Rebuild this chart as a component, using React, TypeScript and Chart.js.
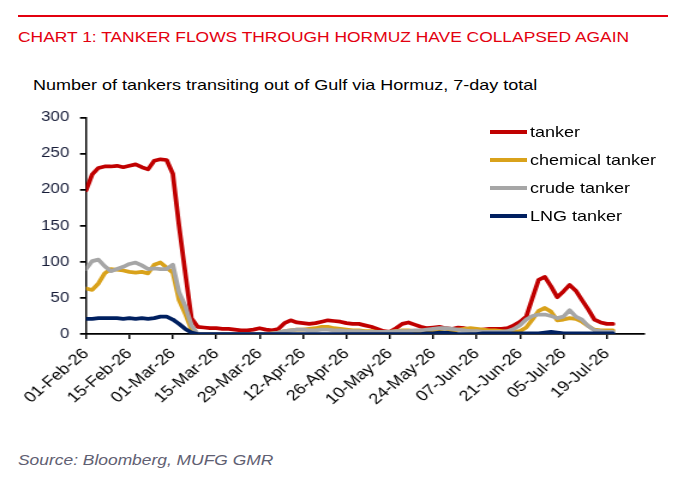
import React, { useEffect, useRef } from 'react';
import { Chart, registerables } from 'chart.js';

Chart.register(...registerables);

const FONT = "'Liberation Sans', Arial, sans-serif";

// Day offsets from 01-Feb-26 (every 2 days)
const days = [
  0, 2, 4, 6, 8, 10, 12, 14, 16, 18,
  20, 22, 24, 26, 28, 30, 32, 34, 36, 38,
  40, 42, 44, 46, 48, 50, 52, 54, 56, 58,
  60, 62, 64, 66, 68, 70, 72, 74, 76, 78,
  80, 82, 84, 86, 88, 90, 92, 94, 96, 98,
  100, 102, 104, 106, 108, 110, 112, 114, 116, 118,
  120, 122, 124, 126, 128, 130, 132, 134, 136, 138,
  140, 142, 144, 146, 148, 150, 152, 154, 156, 158,
  160, 162, 164, 166, 168, 170,
];

const tanker = [
  199, 221, 230, 232, 232, 233, 231, 233, 235, 231,
  228, 240, 242, 241, 222, 150, 85, 22, 10, 9,
  8, 8, 7, 7, 6, 5, 5, 6, 8, 6,
  5, 7, 15, 19, 16, 15, 14, 15, 17, 19,
  18, 17, 15, 14, 14, 12, 10, 7, 4, 3,
  8, 14, 16, 13, 10, 8, 9, 10, 8, 7,
  9, 8, 6, 5, 6, 7, 7, 7, 8, 12,
  17, 24, 50, 75, 79, 66, 51, 59, 68, 60,
  47, 34, 20, 16, 14, 14,
];

const chemicalTanker = [
  63, 61, 70, 84, 90, 89, 88, 86, 85, 86,
  84, 96, 99, 92, 85, 47, 28, 6, 0, 0,
  0, 0, 0, 0, 0, 0, 0, 0, 0, 0,
  1, 2, 4, 5, 6, 6, 7, 8, 10, 10,
  8, 7, 6, 5, 5, 4, 4, 3, 3, 3,
  4, 5, 5, 4, 4, 4, 3, 3, 2, 4,
  6, 7, 8, 7, 6, 5, 5, 4, 3, 3,
  4, 9, 20, 32, 36, 31, 19, 20, 22, 21,
  17, 11, 6, 5, 5, 5,
];

const crudeTanker = [
  90, 101, 103, 94, 87, 90, 93, 97, 99, 95,
  90, 91, 90, 90, 96, 58, 39, 12, 0, 0,
  0, 0, 0, 0, 0, 0, 0, 0, 0, 0,
  1, 2, 4, 5, 6, 6, 5, 5, 6, 6,
  5, 5, 4, 4, 4, 3, 3, 3, 3, 3,
  4, 4, 4, 5, 5, 6, 7, 8, 8, 7,
  6, 5, 4, 4, 3, 3, 3, 3, 4, 7,
  12, 20, 25, 27, 27, 25, 22, 24, 33, 24,
  20, 11, 5, 4, 3, 3,
];

const lngTanker = [
  21, 21, 22, 22, 22, 22, 21, 22, 21, 22,
  21, 22, 24, 24, 20, 14, 7, 2, 0, 0,
  0, 0, 0, 0, 0, 0, 0, 0, 0, 0,
  0, 0, 0, 0, 0, 0, 0, 0, 0, 0,
  0, 0, 0, 0, 0, 0, 0, 0, 0, 0,
  0, 0, 0, 0, 0, 1, 1, 2, 2, 1,
  0, 0, 0, 0, 1, 1, 1, 1, 1, 1,
  1, 1, 1, 1, 2, 3, 2, 1, 1, 1,
  1, 1, 1, 1, 1, 1,
];

const seriesNames = ['tanker', 'chemical tanker', 'crude tanker', 'LNG tanker'];
const seriesColors = ['#C00000', '#D9A21B', '#A6A6A6', '#002060'];
const seriesValues = [tanker, chemicalTanker, crudeTanker, lngTanker];

const tickDays = [0, 14, 28, 42, 56, 70, 84, 98, 112, 126, 140, 154, 168];
const tickLabels = [
  '01-Feb-26', '15-Feb-26', '01-Mar-26', '15-Mar-26', '29-Mar-26', '12-Apr-26',
  '26-Apr-26', '10-May-26', '24-May-26', '07-Jun-26', '21-Jun-26', '05-Jul-26', '19-Jul-26',
];

// The reference is horizontally stretched; emulate that.
const SX = 1.2;
const CANVAS_TOP = 100;
const CANVAS_W = 560;
const CANVAS_H = 320;
const PLOT_LEFT = 86 / SX;
const PLOT_RIGHT = 644 / SX;
const PLOT_BOTTOM = 334 - CANVAS_TOP;

const stretch = { transform: `scaleX(${SX})`, transformOrigin: '0 0' };

export default function App() {
  const ref = useRef<HTMLCanvasElement>(null);

  useEffect(() => {
    const datasets = seriesNames.map((name, si) => ({
      label: name,
      data: days.map((d, i) => ({ x: d, y: seriesValues[si][i] })),
      borderColor: seriesColors[si],
      backgroundColor: seriesColors[si],
      borderWidth: 3.75,
      pointRadius: 0,
      tension: 0,
      borderJoinStyle: 'round' as const,
      borderCapStyle: 'round' as const,
      order: seriesNames.length - 1 - si,
    }));

    const chart = new Chart(ref.current!, {
      type: 'line',
      data: { datasets },
      options: {
        animation: false,
        responsive: false,
        maintainAspectRatio: false,
        layout: { padding: { top: 15, right: CANVAS_W - PLOT_RIGHT, left: 0, bottom: 0 } },
        plugins: {
          legend: { display: false },
          tooltip: { enabled: false },
        },
        scales: {
          x: {
            type: 'linear',
            min: 0,
            max: 180,
            afterBuildTicks: (s: any) => {
              s.ticks = tickDays.map((v) => ({ value: v }));
            },
            afterFit: (s: any) => {
              s.height = CANVAS_H - PLOT_BOTTOM;
            },
            ticks: {
              autoSkip: false,
              maxRotation: 45,
              minRotation: 45,
              padding: 6,
              color: '#000',
              font: { family: FONT, size: 15 },
              callback: (v: any) => {
                const idx = tickDays.indexOf(Number(v));
                return idx >= 0 ? tickLabels[idx] : '';
              },
            },
            grid: {
              drawOnChartArea: false,
              drawTicks: true,
              tickLength: 5,
              color: '#000',
              lineWidth: 1.5,
            },
            border: { display: true, color: '#000', width: 1.75 },
          },
          y: {
            min: 0,
            max: 300,
            afterFit: (s: any) => {
              s.width = PLOT_LEFT;
            },
            ticks: {
              stepSize: 50,
              padding: 9,
              color: '#161c38',
              font: { family: FONT, size: 14 },
            },
            grid: {
              drawOnChartArea: false,
              drawTicks: true,
              tickLength: 5,
              color: '#000',
              lineWidth: 1.75,
            },
            border: { display: true, color: '#000', width: 1.5 },
          },
        },
      },
    });
    return () => chart.destroy();
  }, []);

  const legendRowY = [132, 160, 188, 216];

  return (
    <div
      style={{
        position: 'fixed',
        left: 0,
        top: 0,
        width: 693,
        height: 495,
        background: '#fff',
        overflow: 'hidden',
        fontFamily: FONT,
      }}
    >
      <div style={{ position: 'absolute', left: 18, top: 15, width: 650, height: 1.5, background: '#E3000F' }} />
      <div
        style={{
          position: 'absolute',
          left: 18,
          top: 28,
          lineHeight: '18px',
          fontSize: 14.5,
          color: '#E3000F',
          whiteSpace: 'nowrap',
          ...stretch,
        }}
      >
        CHART 1: TANKER FLOWS THROUGH HORMUZ HAVE COLLAPSED AGAIN
      </div>
      <div
        style={{
          position: 'absolute',
          left: 33,
          top: 76,
          lineHeight: '18px',
          fontSize: 15,
          color: '#000',
          whiteSpace: 'nowrap',
          ...stretch,
        }}
      >
        Number of tankers transiting out of Gulf via Hormuz, 7-day total
      </div>
      <div
        style={{
          position: 'absolute',
          left: 0,
          top: CANVAS_TOP,
          width: CANVAS_W,
          height: CANVAS_H,
          ...stretch,
        }}
      >
        <canvas ref={ref} width={CANVAS_W} height={CANVAS_H} style={{ width: CANVAS_W, height: CANVAS_H }} />
      </div>
      {seriesNames.map((name, i) => (
        <div key={name}>
          <div
            style={{
              position: 'absolute',
              left: 490,
              top: legendRowY[i] - 2,
              width: 37,
              height: 4,
              background: seriesColors[i],
            }}
          />
          <div
            style={{
              position: 'absolute',
              left: 530,
              top: legendRowY[i] - 9,
              lineHeight: '18px',
              fontSize: 15,
              color: '#000',
              whiteSpace: 'nowrap',
              ...stretch,
            }}
          >
            {name}
          </div>
        </div>
      ))}
      <div
        style={{
          position: 'absolute',
          left: 18,
          top: 451,
          lineHeight: '18px',
          fontSize: 14.5,
          fontStyle: 'italic',
          color: '#5f6072',
          whiteSpace: 'nowrap',
          ...stretch,
        }}
      >
        Source: Bloomberg, MUFG GMR
      </div>
    </div>
  );
}
